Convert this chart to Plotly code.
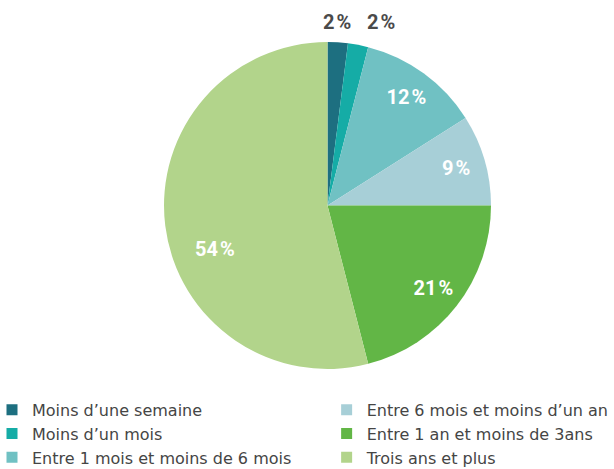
import plotly.graph_objects as go

categories = ["Moins d\u2019une semaine", "Moins d\u2019un mois", "Entre 1 mois et moins de 6 mois",
              "Entre 6 mois et moins d\u2019un an", "Entre 1 an et moins de 3ans", "Trois ans et plus"]
values = [2, 2, 12, 9, 21, 54]
colors = ["#1d6f80", "#15aca6", "#70c1c3", "#a7cfd7", "#62b646", "#b2d48b"]
labels_text = [f"{v}\u200a%" for v in values]
# which labels sit in the ring (placed by plotly) vs. placed freely as annotations
ring_mask = [False, False, True, True, True, False]

pie_domain = dict(x=[0.2671, 0.7997], y=[0.2132, 0.9104])
label_font = dict(family="Roboto", size=20, color="white", weight="bold")

fig = go.Figure()
# coloured pie
fig.add_trace(go.Pie(
    labels=categories, values=values, sort=False, direction="clockwise", rotation=0,
    marker=dict(colors=colors, line=dict(width=0)),
    textinfo="none", domain=pie_domain, showlegend=False, hoverinfo="label+percent",
))
# transparent ring carrying the inside labels (places them at ~0.8 of the radius)
fig.add_trace(go.Pie(
    labels=categories, values=values, sort=False, direction="clockwise", rotation=0,
    hole=0.64,
    marker=dict(colors=["rgba(0,0,0,0)"] * len(values), line=dict(width=0)),
    text=[t if m else "" for t, m in zip(labels_text, ring_mask)],
    textinfo="text",
    textposition=["inside" if m else "none" for m in ring_mask],
    insidetextorientation="horizontal",
    textfont=label_font, domain=pie_domain, showlegend=False, hoverinfo="skip",
))

# remaining labels: the two small slices above the pie, the large one inside
free_idx = [i for i, m in enumerate(ring_mask) if not m]
free_pos = [(0.5489, 0.9531), (0.6205, 0.9531), (0.3502, 0.4691)]
free_col = ["#4a4a4a", "#4a4a4a", "white"]
for (i, (px, py), c) in zip(free_idx, free_pos, free_col):
    fig.add_annotation(x=px, y=py, xref="paper", yref="paper", text=labels_text[i],
                       xanchor="center", yanchor="middle", showarrow=False,
                       font=dict(family="Roboto", size=20, color=c, weight="bold"))

for i, (name, col) in enumerate(zip(categories, colors)):
    fig.add_trace(go.Scatter(
        x=[None], y=[None], mode="markers", name=name,
        marker=dict(symbol="square", size=11, color=col),
        legend="legend" if i < 3 else "legend2", showlegend=True,
    ))

leg_font = dict(family="DejaVu Sans", size=16, color="#454545")
fig.update_layout(
    width=614, height=469, margin=dict(l=0, r=0, t=0, b=0, autoexpand=False),
    paper_bgcolor="white", plot_bgcolor="white",
    xaxis=dict(visible=False), yaxis=dict(visible=False),
    legend=dict(x=0.0, y=0.1625, xanchor="left", yanchor="top", font=leg_font,
                tracegroupgap=0, itemwidth=30, indentation=-8, bgcolor="rgba(0,0,0,0)"),
    legend2=dict(x=0.545, y=0.1625, xanchor="left", yanchor="top", font=leg_font,
                 tracegroupgap=0, itemwidth=30, indentation=-8, bgcolor="rgba(0,0,0,0)"),
)

fig.write_html("out.html", config={"displayModeBar": False},
               post_script="document.body.style.margin='0';")
